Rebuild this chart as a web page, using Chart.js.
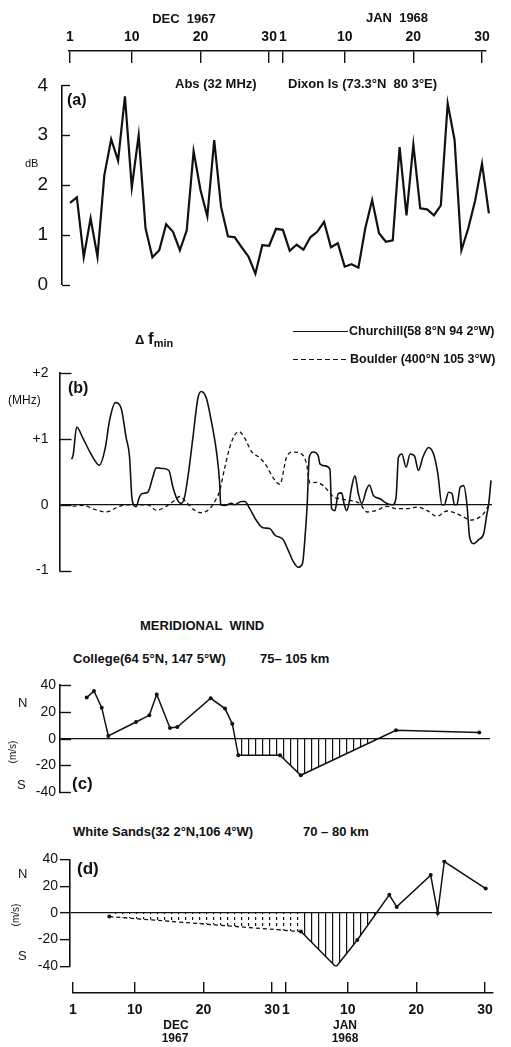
<!DOCTYPE html>
<html>
<head>
<meta charset="utf-8">
<script src="https://cdn.jsdelivr.net/npm/chart.js@4.4.1/dist/chart.umd.min.js"></script>
<style>
html, body { margin: 0; padding: 0; background: #fff; }
#fig { position: relative; width: 511px; height: 1047px; overflow: hidden; font-family: "Liberation Sans", Arial, sans-serif; color: #111; }
canvas { position: absolute; left: 0; }
.c, .l { position: absolute; white-space: nowrap; line-height: 1; font-weight: bold; }
.c { transform: translate(-50%, -50%); }
.l { transform: translate(0, -50%); }
.key { position: absolute; width: 55px; }
</style>
</head>
<body>
<div id="fig">
  <canvas id="topAxis" width="511" height="70" style="top:0px"></canvas>
  <canvas id="absChart" width="511" height="250" style="top:60px"></canvas>
  <canvas id="fminChart" width="511" height="250" style="top:340px"></canvas>
  <canvas id="collegeChart" width="511" height="140" style="top:670px"></canvas>
  <canvas id="sandsChart" width="511" height="135" style="top:845px"></canvas>
  <canvas id="bottomAxis" width="511" height="72" style="top:975px"></canvas>

  <div class="c" style="left:184px;top:18px;font-size:13px">DEC&nbsp; 1967</div>
  <div class="c" style="left:397px;top:17px;font-size:13px">JAN&nbsp; 1968</div>

  <div class="l" style="left:175px;top:83px;font-size:13px">Abs (32 MHz)</div>
  <div class="l" style="left:288px;top:83px;font-size:13px">Dixon Is (73.3°N&nbsp; 80 3°E)</div>
  <div class="l" style="left:67px;top:100px;font-size:16px">(a)</div>
  <div class="l" style="left:25px;top:163px;font-size:11px;font-weight:normal">dB</div>

  <div class="l" style="left:135px;top:338px;font-size:13px">Δ <span style="font-size:17px">f</span><span style="font-size:11px;position:relative;top:3px">min</span></div>
  <div class="key" style="left:293px;top:331px;border-top:1.4px solid #111"></div>
  <div class="l" style="left:349px;top:331px;font-size:12.5px">Churchill(58 8°N 94 2°W)</div>
  <div class="key" style="left:293px;top:359px;height:1.3px;background:repeating-linear-gradient(90deg,#111 0 5px,transparent 5px 8px)"></div>
  <div class="l" style="left:350px;top:359px;font-size:12.5px">Boulder (400°N 105 3°W)</div>
  <div class="l" style="left:8px;top:400px;font-size:12px;font-weight:normal">(MHz)</div>
  <div class="l" style="left:68px;top:388px;font-size:16px">(b)</div>

  <div class="l" style="left:140px;top:625px;font-size:13px">MERIDIONAL&nbsp; WIND</div>
  <div class="l" style="left:73px;top:658px;font-size:13px">College(64 5°N, 147 5°W)</div>
  <div class="l" style="left:260px;top:658px;font-size:13px">75– 105 km</div>
  <div class="l" style="left:18px;top:702px;font-size:13px;font-weight:normal">N</div>
  <div class="l" style="left:17px;top:784px;font-size:13px;font-weight:normal">S</div>
  <div class="c" style="left:13px;top:752px;font-size:10px;font-weight:normal;transform:translate(-50%,-50%) rotate(-90deg)">(m/s)</div>
  <div class="l" style="left:72px;top:783px;font-size:17px">(c)</div>

  <div class="l" style="left:73px;top:831px;font-size:13px">White Sands(32 2°N,106 4°W)</div>
  <div class="l" style="left:303px;top:831px;font-size:13px">70 – 80 km</div>
  <div class="l" style="left:18px;top:873px;font-size:13px;font-weight:normal">N</div>
  <div class="l" style="left:18px;top:955px;font-size:13px;font-weight:normal">S</div>
  <div class="c" style="left:16px;top:915px;font-size:10px;font-weight:normal;transform:translate(-50%,-50%) rotate(-90deg)">(m/s)</div>
  <div class="l" style="left:77px;top:868px;font-size:17px">(d)</div>

  <div class="c" style="left:176px;top:1025px;font-size:12px">DEC</div>
  <div class="c" style="left:175px;top:1038px;font-size:12px">1967</div>
  <div class="c" style="left:345px;top:1025px;font-size:12px">JAN</div>
  <div class="c" style="left:345px;top:1038px;font-size:12px">1968</div>
</div>

<script>
// day 1 = 1 Dec 1967, day 32 = 1 Jan 1968
const axisDays = [1, 10, 20, 30, 32, 41, 51, 61];
const axisLabels = ['1', '10', '20', '30', '1', '10', '20', '30'];

// (a) 32 MHz absorption, Dixon Is, daily
const absDays = [1,2,3,4,5,6,7,8,9,10,11,12,13,14,15,16,17,18,19,20,21,22,23,24,25,26,27,28,29,30,31,
                 32,33,34,35,36,37,38,39,40,41,42,43,44,45,46,47,48,49,50,51,52,53,54,55,56,57,58,59,60,61,62];
const absDb = [1.64,1.75,0.55,1.33,0.56,2.2,2.92,2.49,3.78,1.95,3.0,1.13,0.55,0.69,1.21,1.06,0.69,1.09,2.68,1.9,
               1.37,2.9,1.56,0.97,0.95,0.75,0.56,0.22,0.79,0.78,1.12,1.1,0.68,0.8,0.7,0.95,1.06,1.26,0.75,0.83,
               0.36,0.41,0.34,1.13,1.7,1.03,0.86,0.89,2.76,1.39,2.81,1.53,1.51,1.39,1.59,3.64,2.91,0.69,1.13,1.69,
               2.43,1.43];

// (b) delta fmin
const churchillDays = [1.24,1.48,1.97,2.84,4.06,5.28,6.15,6.74,7.61,8.44,9.17,9.66,10.0,10.24,10.63,11.12,11.51,12.33,
  13.06,13.55,14.52,15.4,15.98,16.57,17.2,17.69,18.17,18.9,19.63,20.12,20.85,21.58,22.31,22.8,22.94,23.53,24.5,
  24.99,25.96,26.45,27.18,28.15,29.12,30.09,30.82,32.04,32.77,33.5,34.23,34.86,35.2,35.54,35.84,36.42,37.15,37.39,
  38.12,38.85,39.1,39.58,40.07,40.56,40.9,41.29,41.63,42.02,42.5,42.99,43.48,44.21,44.6,45.18,46.15,47.13,48.0,
  48.49,48.83,49.32,49.95,50.53,51.16,51.75,52.38,53.21,53.94,54.57,55.16,55.5,56.13,56.62,57.0,57.34,57.83,58.32,
  58.81,59.19,59.78,60.51,61.24,61.72,61.96,62.31];
const churchillMhz = [0.69,0.77,1.18,1.02,0.77,0.6,0.87,1.27,1.55,1.47,1.02,0.74,0.12,0,-0.03,0.12,0.17,0.19,
  0.42,0.56,0.55,0.52,0.27,0.09,0.02,0.12,0.42,1.02,1.62,1.72,1.62,1.27,0.82,0.32,0,-0.01,0.02,
  0,0.05,0.05,-0.06,-0.24,-0.35,-0.36,-0.46,-0.53,-0.69,-0.86,-0.95,-0.89,-0.53,0,0.72,0.8,0.74,0.62,
  0.59,0.54,-0.06,-0.09,0.17,0.18,0.02,-0.09,0.02,0.27,0.44,0.17,0.02,0.24,0.3,0.14,0.09,0.02,0,
  0.12,0.72,0.77,0.57,0.77,0.74,0.52,0.72,0.87,0.77,0.47,0,0,0.19,0.17,0,0,0.27,0.29,
  0,-0.49,-0.59,-0.53,-0.44,-0.14,0,0.37];
const boulderDays = [1.38,3.09,4.3,6.26,7.95,9.18,10.14,12.33,13.55,15.01,16.23,16.96,17.93,19.15,20.12,21.34,22.31,
  22.8,23.53,24.26,24.99,25.61,26.45,27.42,28.64,29.61,30.58,31.56,32.53,33.5,34.72,35.45,35.93,36.91,37.88,38.61,
  39.34,40.31,41.77,43.23,44.21,45.67,47.13,48.59,50.05,51.51,52.97,54.43,55.89,57.1,58.31,59.29,60.27,61.23,61.96];
const boulderMhz = [-0.02,-0.01,-0.06,-0.11,-0.035,0,0,0,-0.085,-0.025,0.065,0.125,0.04,-0.085,-0.12,-0.06,0.09,
  0.21,0.56,0.87,1.06,1.11,1.01,0.81,0.71,0.59,0.41,0.31,0.72,0.8,0.77,0.62,0.33,0.34,0.29,0.21,
  0.12,0.09,0.065,0.015,-0.11,-0.085,-0.025,-0.06,-0.06,-0.035,-0.085,-0.175,-0.095,-0.125,-0.185,-0.235,-0.21,-0.135,-0.01];

// (c) College meridional wind, 75-105 km (m/s)
const collegeDays = [3.43,4.49,5.62,6.58,10.61,12.55,13.63,15.56,16.63,21.49,23.57,24.63,25.51,31.58,34.6,48.47,60.6];
const collegeWind = [30.6,35.5,23.1,2.0,12.4,17.4,33.0,8.0,8.7,30.1,22.4,11.2,-12.4,-12.4,-27.3,6.2,4.5];

// (d) White Sands meridional wind, 70-80 km (m/s); dashed part first
const sandsDashDays = [6.29, 34.2];
const sandsDashWind = [-2.75, -14.0];
const sandsDays = [34.2,39.3,42.4,47.06,48.14,53.09,54.11,55.07,61.1];
const sandsWind = [-14.0,-40.5,-20.3,13.6,4.5,28.3,0,38.5,18.2];

const INK = '#111';
const DAY_PX = 6.867;     // pixels per day on the date axes
const TOP_DAY1 = 70;      // x of 1 Dec on the top axis
const BOTTOM_DAY1 = 73;   // x of 1 Dec on the bottom axis

Chart.defaults.font.family = '"Liberation Sans", Arial, sans-serif';
Chart.defaults.color = INK;
Chart.defaults.animation = false;
Chart.defaults.responsive = false;
Chart.defaults.plugins.legend.display = false;
Chart.defaults.plugins.tooltip.enabled = false;
Chart.defaults.elements.point.radius = 0;

// short tick marks drawn inward from the y axis
Chart.register({
  id: 'innerTicks',
  defaults: { length: 0 },
  afterDraw(chart, args, opts) {
    if (!opts.length) return;
    const y = chart.scales.y, ctx = chart.ctx, left = chart.chartArea.left;
    ctx.save();
    ctx.strokeStyle = INK;
    ctx.lineWidth = 1.4;
    y.ticks.forEach(t => {
      const py = Math.round(y.getPixelForValue(t.value)) + 0.5;
      ctx.beginPath();
      ctx.moveTo(left, py);
      ctx.lineTo(left + opts.length, py);
      ctx.stroke();
    });
    ctx.restore();
  }
});

function pts(xs, ys) {
  return xs.map((x, i) => ({ x: x, y: ys[i] }));
}

function xRange(left, right, day1, extra) {
  return Object.assign({
    type: 'linear',
    display: false,
    min: 1 + (left - day1) / DAY_PX,
    max: 1 + (right - day1) / DAY_PX
  }, extra || {});
}

function hatch(dashed) {
  const c = document.createElement('canvas');
  c.width = 7; c.height = 6;
  const g = c.getContext('2d');
  g.fillStyle = INK;
  g.fillRect(3, 0, 1.2, dashed ? 3 : 6);
  return g.createPattern(c, 'repeat');
}

function yAxis(width, min, max, step, size, pad, more) {
  return Object.assign({
    min: min, max: max,
    afterFit: s => { s.width = width; },
    ticks: { stepSize: step, padding: pad, font: { size: size }, color: INK },
    grid: {
      drawTicks: false,
      lineWidth: 1.3,
      color: c => (c.tick && c.tick.value === 0) ? INK : 'rgba(0,0,0,0)'
    },
    border: { display: true, color: INK, width: 1.6 }
  }, more || {});
}

function dateAxis(position, left, right, day1, boxHeight, pad) {
  return xRange(left, right, day1, {
    display: true,
    position: position,
    afterFit: s => { s.height = boxHeight; },
    afterBuildTicks: s => { s.ticks = axisDays.map(v => ({ value: v })); },
    ticks: { autoSkip: false, maxRotation: 0, padding: pad, font: { size: 14, weight: 'bold' }, color: INK,
             callback: (v, i) => axisLabels[i] },
    grid: { drawTicks: false, drawOnChartArea: true, color: INK, lineWidth: 1.4 },
    border: { display: true, color: INK, width: 1.6 }
  });
}

// top date axis
new Chart(document.getElementById('topAxis'), {
  type: 'line',
  data: { datasets: [] },
  options: {
    layout: { padding: { left: 69, right: 511 - 486, top: 0, bottom: 7 } },
    scales: {
      x: dateAxis('top', 69, 486, TOP_DAY1, 50.7, 5),
      y: { display: false, min: 0, max: 1 }
    }
  }
});

// (a)
new Chart(document.getElementById('absChart'), {
  type: 'line',
  data: { datasets: [{ data: pts(absDays, absDb), borderColor: INK, borderWidth: 2.2, tension: 0 }] },
  options: {
    layout: { padding: { left: 0, right: 19, top: 22, bottom: 14 } },
    scales: {
      x: xRange(62, 492, TOP_DAY1),
      y: yAxis(62, 0, 4, 1, 19, 14, { grid: { drawTicks: false, color: 'rgba(0,0,0,0)' } })
    },
    plugins: { innerTicks: { length: 8 } }
  }
});

// (b)
new Chart(document.getElementById('fminChart'), {
  type: 'line',
  data: {
    datasets: [
      { data: pts(churchillDays, churchillMhz), borderColor: INK, borderWidth: 1.6, cubicInterpolationMode: 'monotone' },
      { data: pts(boulderDays, boulderMhz), borderColor: INK, borderWidth: 1.3, borderDash: [4, 3], cubicInterpolationMode: 'monotone' }
    ]
  },
  options: {
    layout: { padding: { left: 0, right: 19, top: 33, bottom: 15.7 } },
    scales: {
      x: xRange(59.5, 492, TOP_DAY1),
      y: yAxis(59.5, -1, 2, 1, 14, 11, {
        ticks: { stepSize: 1, padding: 11, font: { size: 14 }, color: INK, callback: v => (v > 0 ? '+' + v : String(v)) }
      })
    },
    plugins: { innerTicks: { length: 12 } }
  }
});

// (c)
new Chart(document.getElementById('collegeChart'), {
  type: 'line',
  data: {
    datasets: [{
      data: pts(collegeDays, collegeWind), borderColor: INK, borderWidth: 1.5, tension: 0,
      pointRadius: 2, pointBackgroundColor: INK, pointBorderWidth: 0,
      fill: { target: 'origin', above: 'rgba(0,0,0,0)', below: hatch(false) }
    }]
  },
  options: {
    layout: { padding: { left: 0, right: 21, top: 15, bottom: 17.7 } },
    scales: {
      x: xRange(60, 490, TOP_DAY1),
      y: yAxis(60, -40, 40, 20, 14, 4)
    },
    plugins: { innerTicks: { length: 11 } }
  }
});

// (d)
new Chart(document.getElementById('sandsChart'), {
  type: 'line',
  data: {
    datasets: [
      {
        data: pts(sandsDashDays, sandsDashWind), borderColor: INK, borderWidth: 1.3, borderDash: [4, 3],
        pointRadius: [2, 0], pointBackgroundColor: INK, pointBorderWidth: 0,
        fill: { target: 'origin', above: 'rgba(0,0,0,0)', below: hatch(true) }
      },
      {
        data: pts(sandsDays, sandsWind), borderColor: INK, borderWidth: 1.5, tension: 0,
        pointRadius: 2, pointBackgroundColor: INK, pointBorderWidth: 0,
        fill: { target: 'origin', above: 'rgba(0,0,0,0)', below: hatch(false) }
      }
    ]
  },
  options: {
    layout: { padding: { left: 0, right: 19, top: 14.5, bottom: 13.7 } },
    scales: {
      x: xRange(70, 492, BOTTOM_DAY1),
      y: yAxis(70, -40, 40, 20, 14, 2, {
        grid: {
          drawTicks: true, tickLength: 10, tickColor: INK, tickWidth: 1.4, lineWidth: 1.3,
          color: c => (c.tick && c.tick.value === 0) ? INK : 'rgba(0,0,0,0)'
        }
      })
    }
  }
});

// bottom date axis
new Chart(document.getElementById('bottomAxis'), {
  type: 'line',
  data: { datasets: [] },
  options: {
    layout: { padding: { left: 73, right: 511 - 493, top: 7, bottom: 0 } },
    scales: {
      x: dateAxis('bottom', 73, 493, BOTTOM_DAY1, 53.7, 8),
      y: { display: false, min: 0, max: 1 }
    }
  }
});
</script>
</body>
</html>
